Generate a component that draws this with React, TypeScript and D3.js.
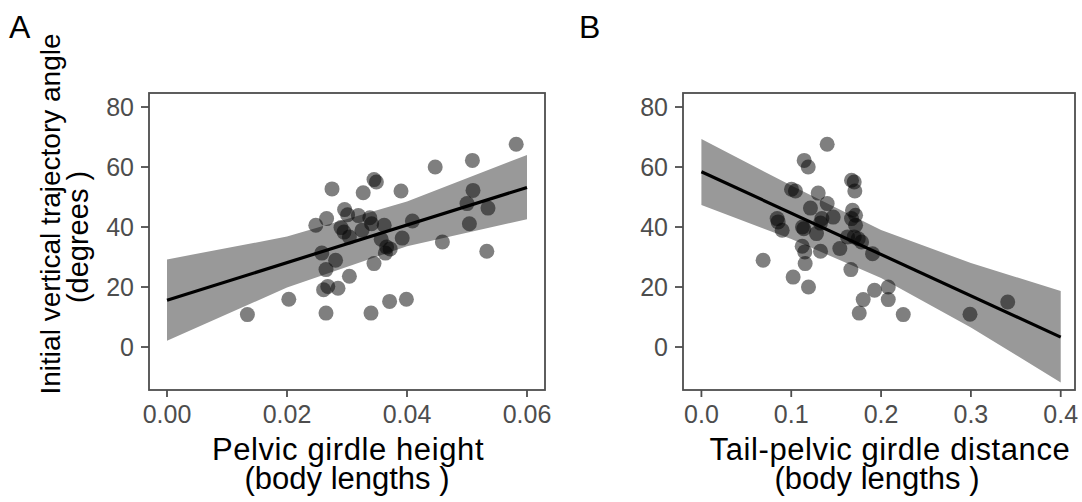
import React from "react";
import * as d3 from "d3";

// Panel A: pelvic girdle height vs initial vertical trajectory angle
const pelvicHeight = [
  0.0134, 0.0203, 0.0265, 0.0261, 0.0268, 0.0285, 0.0265, 0.0281, 0.0304, 0.0258,
  0.0248, 0.0266, 0.0275, 0.029, 0.0295, 0.0304, 0.0296, 0.0301, 0.0319, 0.0325,
  0.0327, 0.0338, 0.0341, 0.0345, 0.0349, 0.0345, 0.034, 0.0362, 0.0357, 0.0366,
  0.0364, 0.0372, 0.0371, 0.039, 0.0392, 0.0399, 0.0409, 0.0447, 0.0459, 0.0509,
  0.051, 0.05, 0.0504, 0.0535, 0.0533, 0.0582,
];
const angleA = [
  10.8, 15.9, 11.3, 19.1, 20.2, 19.6, 25.8, 28.9, 23.6, 31.3,
  40.6, 42.8, 52.7, 39.8, 38.3, 36.7, 45.8, 44.1, 43.8, 38.9,
  51.4, 43.1, 41.1, 55.8, 55.0, 27.8, 11.3, 40.6, 35.9, 33.3,
  31.3, 32.7, 15.2, 52.0, 36.3, 15.9, 42.0, 60.0, 35.0, 62.2,
  52.2, 47.8, 41.1, 46.3, 31.9, 67.6,
];
const fitAx = [0, 0.06];
const fitAy = [15.6, 53.2];
const bandAx = [0, 0.02, 0.04, 0.06];
const bandAlo = [2.1, 19.8, 33.6, 42.6];
const bandAhi = [29.2, 36.8, 48.5, 64.0];

// Panel B: tail-pelvic girdle distance vs initial vertical trajectory angle
const tailDist = [
  0.0687, 0.0843, 0.0854, 0.0899, 0.1003, 0.1047, 0.1021, 0.1144, 0.1189, 0.1125,
  0.114, 0.1122, 0.1151, 0.1155, 0.1192, 0.1214, 0.13, 0.1281, 0.1326, 0.1341,
  0.1326, 0.14, 0.14, 0.1467, 0.1541, 0.1627, 0.1671, 0.1701, 0.1708, 0.1682,
  0.1716, 0.1671, 0.1716, 0.1701, 0.1746, 0.1783, 0.1664, 0.1905, 0.1927, 0.208,
  0.1801, 0.208, 0.1757, 0.2247, 0.299, 0.341,
];
const angleB = [
  28.9, 42.8, 41.7, 38.9, 52.6, 52.0, 23.3, 62.2, 60.0, 40.0,
  39.4, 33.6, 31.7, 27.8, 20.0, 46.3, 51.3, 37.8, 41.3, 42.8,
  31.9, 67.6, 47.8, 43.3, 32.8, 36.7, 55.6, 55.0, 52.0, 45.6,
  43.9, 42.8, 40.6, 36.7, 36.1, 35.0, 25.8, 31.1, 18.9, 20.0,
  15.8, 15.8, 11.3, 10.8, 10.9, 15.0,
];
const fitBx = [0, 0.4];
const fitBy = [58.4, 3.3];
const bandBx = [0, 0.1, 0.2, 0.3, 0.4];
const bandBlo = [47.3, 36.0, 23.0, 6.5, -11.8];
const bandBhi = [69.3, 53.8, 39.0, 28.0, 18.7];

const yTicks = [0, 20, 40, 60, 80];
const xTicksA = [0, 0.02, 0.04, 0.06];
const xTicksB = [0, 0.1, 0.2, 0.3, 0.4];
const xTickLabelsA = ["0.00", "0.02", "0.04", "0.06"];
const xTickLabelsB = ["0.0", "0.1", "0.2", "0.3", "0.4"];

const FONT = "'Liberation Sans', Arial, sans-serif";
const AXIS_COL = "#4d4d4d";
const TICK_TEXT = "#4d4d4d";

const TOP = 93;
const BOTTOM = 390;

type PanelProps = {
  left: number;
  right: number;
  xDomain: [number, number];
  xs: number[];
  ys: number[];
  fitX: number[];
  fitY: number[];
  bandX: number[];
  bandLo: number[];
  bandHi: number[];
  xTicks: number[];
  xTickLabels: string[];
  title1: string;
  title2: string;
  title1Cx: number;
  title2Cx: number;
};

function Panel(p: PanelProps) {
  const x = d3.scaleLinear().domain(p.xDomain).range([p.left, p.right]);
  const y = d3.scaleLinear().domain([-14.33, 84.67]).range([BOTTOM, TOP]);
  const bandData = p.bandX.map((v, i) => ({ x: v, lo: p.bandLo[i], hi: p.bandHi[i] }));
  const area = d3
    .area<{ x: number; lo: number; hi: number }>()
    .x((d) => x(d.x))
    .y0((d) => y(d.lo))
    .y1((d) => y(d.hi));
  const line = d3
    .line<number>()
    .x((d) => x(d))
    .y((_, i) => y(p.fitY[i]));
  return (
    <g>
      <path d={area(bandData) || ""} fill="#999999" stroke="none" />
      {p.xs.map((v, i) => (
        <circle key={i} cx={x(v)} cy={y(p.ys[i])} r={7.5} fill="#000" fillOpacity={0.5} />
      ))}
      <path d={line(p.fitX) || ""} fill="none" stroke="#000" strokeWidth={3.2} />
      <rect
        x={p.left}
        y={TOP}
        width={p.right - p.left}
        height={BOTTOM - TOP}
        fill="none"
        stroke={AXIS_COL}
        strokeWidth={1.8}
      />
      {yTicks.map((t) => (
        <g key={"y" + t}>
          <line x1={p.left - 8} x2={p.left} y1={y(t)} y2={y(t)} stroke={AXIS_COL} strokeWidth={1.8} />
          <text
            x={p.left - 15}
            y={y(t) + 9}
            textAnchor="end"
            fontFamily={FONT}
            fontSize={25}
            fill={TICK_TEXT}
          >
            {t}
          </text>
        </g>
      ))}
      {p.xTicks.map((t, i) => (
        <g key={"x" + t}>
          <line x1={x(t)} x2={x(t)} y1={BOTTOM} y2={BOTTOM + 7} stroke={AXIS_COL} strokeWidth={1.8} />
          <text x={x(t)} y={423} textAnchor="middle" fontFamily={FONT} fontSize={25} fill={TICK_TEXT}>
            {p.xTickLabels[i]}
          </text>
        </g>
      ))}
      <text
        x={p.title1Cx}
        y={460}
        textAnchor="middle"
        fontFamily={FONT}
        fontSize={31}
        letterSpacing={0.6}
        fill="#000"
      >
        {p.title1}
      </text>
      <text x={p.title2Cx} y={489} textAnchor="middle" fontFamily={FONT} fontSize={31} fill="#000">
        {p.title2}
      </text>
    </g>
  );
}

export default function App() {
  return (
    <svg
      width={1082}
      height={502}
      style={{ position: "absolute", left: 0, top: 0, background: "#fff" }}
    >
      <rect x={0} y={0} width={1082} height={502} fill="#fff" />
      <Panel
        left={149}
        right={545}
        xDomain={[-0.003, 0.063]}
        xs={pelvicHeight}
        ys={angleA}
        fitX={fitAx}
        fitY={fitAy}
        bandX={bandAx}
        bandLo={bandAlo}
        bandHi={bandAhi}
        xTicks={xTicksA}
        xTickLabels={xTickLabelsA}
        title1="Pelvic girdle height"
        title2="(body lengths )"
        title1Cx={348}
        title2Cx={347}
      />
      <Panel
        left={683}
        right={1075}
        xDomain={[-0.0205, 0.4159]}
        xs={tailDist}
        ys={angleB}
        fitX={fitBx}
        fitY={fitBy}
        bandX={bandBx}
        bandLo={bandBlo}
        bandHi={bandBhi}
        xTicks={xTicksB}
        xTickLabels={xTickLabelsB}
        title1="Tail-pelvic girdle distance"
        title2="(body lengths )"
        title1Cx={890}
        title2Cx={877}
      />
      <text
        transform="translate(60,214) rotate(-90)"
        textAnchor="middle"
        fontFamily={FONT}
        fontSize={28}
        fill="#000"
      >
        Initial vertical trajectory angle
      </text>
      <text
        transform="translate(88,237) rotate(-90)"
        textAnchor="middle"
        fontFamily={FONT}
        fontSize={29}
        fill="#000"
      >
        (degrees )
      </text>
      <text x={9} y={38} fontFamily={FONT} fontSize={32} fill="#000">
        A
      </text>
      <text x={579} y={38} fontFamily={FONT} fontSize={32} fill="#000">
        B
      </text>
    </svg>
  );
}
